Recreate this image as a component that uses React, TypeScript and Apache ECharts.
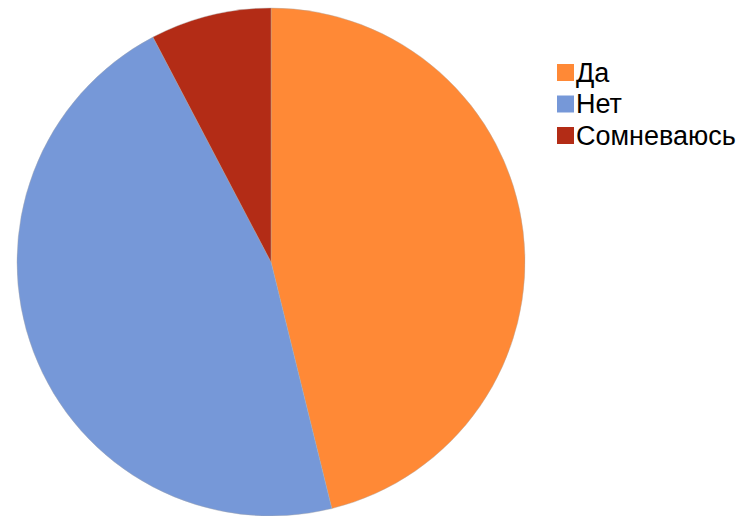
import React, { useEffect, useRef } from "react";
import * as echarts from "echarts";

const categories = ["Да", "Нет", "Сомневаюсь"];
const values = [6, 6, 1];
const colors = ["#FF8936", "#7698D8", "#B32C16"];

export default function App() {
  const ref = useRef<HTMLDivElement>(null);
  useEffect(() => {
    if (!ref.current) return;
    const chart = echarts.init(ref.current, undefined, { renderer: "svg" });
    chart.setOption({
      animation: false,
      backgroundColor: "#ffffff",
      color: colors,
      legend: {
        orient: "vertical",
        left: 552,
        top: 54,
        itemWidth: 17,
        itemHeight: 17,
        itemGap: 4.5,
        icon: "rect",
        data: categories,
        itemStyle: { borderWidth: 0 },
        textStyle: {
          fontFamily: "Liberation Sans, Arial, sans-serif",
          fontSize: 27,
          lineHeight: 27,
          color: "#000",
          padding: [0, 0, 0, -3],
        },
      },
      series: [
        {
          type: "pie",
          center: [271, 262],
          radius: 254,
          startAngle: 90,
          clockwise: true,
          label: { show: false },
          labelLine: { show: false },
          emphasis: { disabled: true },
          itemStyle: { borderColor: "#aaaaaa", borderWidth: 0.4 },
          data: categories.map((c, i) => ({ name: c, value: values[i] })),
        },
      ],
    });
    return () => chart.dispose();
  }, []);
  return (
    <div
      ref={ref}
      style={{ position: "fixed", left: 0, top: 0, width: 738, height: 516 }}
    />
  );
}
